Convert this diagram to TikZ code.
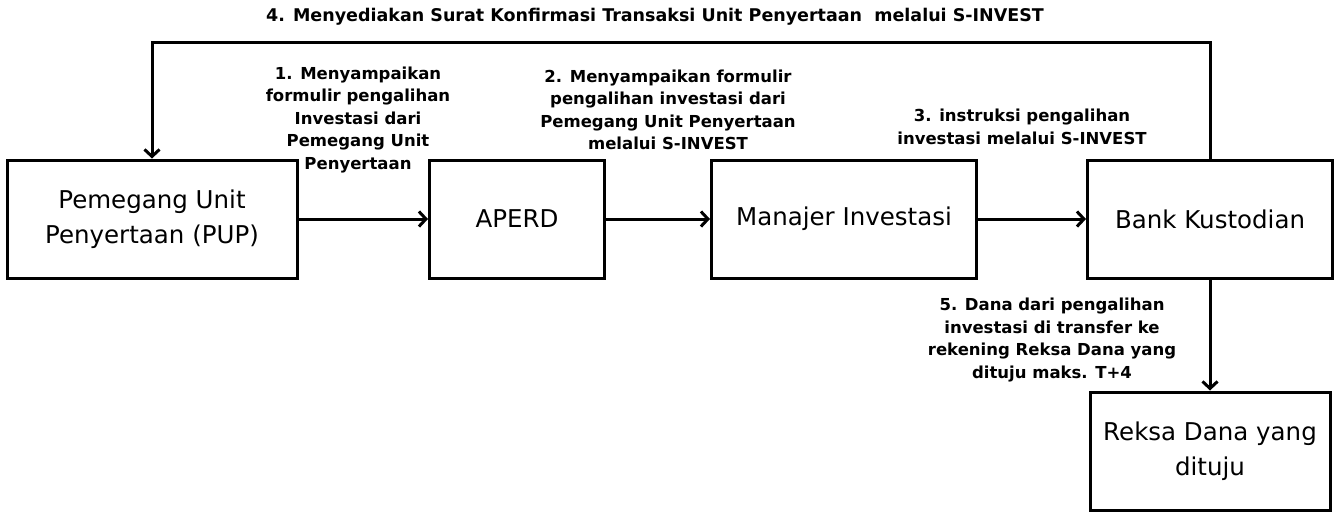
\documentclass[tikz,border=0pt]{standalone}
\usepackage{fontspec}
\setmainfont{DejaVu Sans}
\usetikzlibrary{arrows.meta}
\tikzset{
  box/.style={draw, line width=3pt, minimum height=118pt, align=center, font=\fontsize{24.5}{35}\selectfont, inner sep=0pt},
  lbl/.style={align=center, font=\bfseries\fontsize{16.5}{22.5}\selectfont, inner sep=0pt},
  arr/.style={line width=3pt, -{Straight Barb[length=7pt,width=15pt,line width=3pt]}},
}
\begin{document}
\begin{tikzpicture}[x=1pt,y=-1pt]
\useasboundingbox (0,0) rectangle (1335,512);
\node[box, minimum width=290pt] (pup) at (152,219) {Pemegang Unit\\Penyertaan (PUP)};
\node[box, minimum width=175pt] (aperd) at (517,219) {APERD};
\node[box, minimum width=265pt] (mi) at (844,219) {Manajer Investasi};
\node[box, minimum width=245pt] (bk) at (1210,219) {Bank Kustodian};
\node[box, minimum width=240pt] (rd) at (1210,451) {Reksa Dana yang\\dituju};
\coordinate (top) at (0,42);
\draw[arr] (pup) -- (aperd);
\draw[arr] (aperd) -- (mi);
\draw[arr] (mi) -- (bk);
\draw[arr] (bk.north) |- (pup.north |- top) -- (pup.north);
\draw[arr] (bk.south) -- (rd.north);
\node[lbl, font=\bfseries\fontsize{17.5}{22.5}\selectfont] (l4) at (655,17) {4. Menyediakan Surat Konfirmasi Transaksi Unit Penyertaan \ melalui S-INVEST};
\node[lbl] (l1) at (358,120) {1. Menyampaikan\\formulir pengalihan\\Investasi dari\\Pemegang Unit\\Penyertaan};
\node[lbl] (l2) at (668,110) {2. Menyampaikan formulir\\pengalihan investasi dari\\Pemegang Unit Penyertaan\\melalui S-INVEST};
\node[lbl] (l3) at (1022,127) {3. instruksi pengalihan\\investasi melalui S-INVEST};
\node[lbl] (l5) at (1052,340) {5. Dana dari pengalihan\\investasi di transfer ke\\rekening Reksa Dana yang\\dituju maks. T+4};
\end{tikzpicture}
\end{document}
